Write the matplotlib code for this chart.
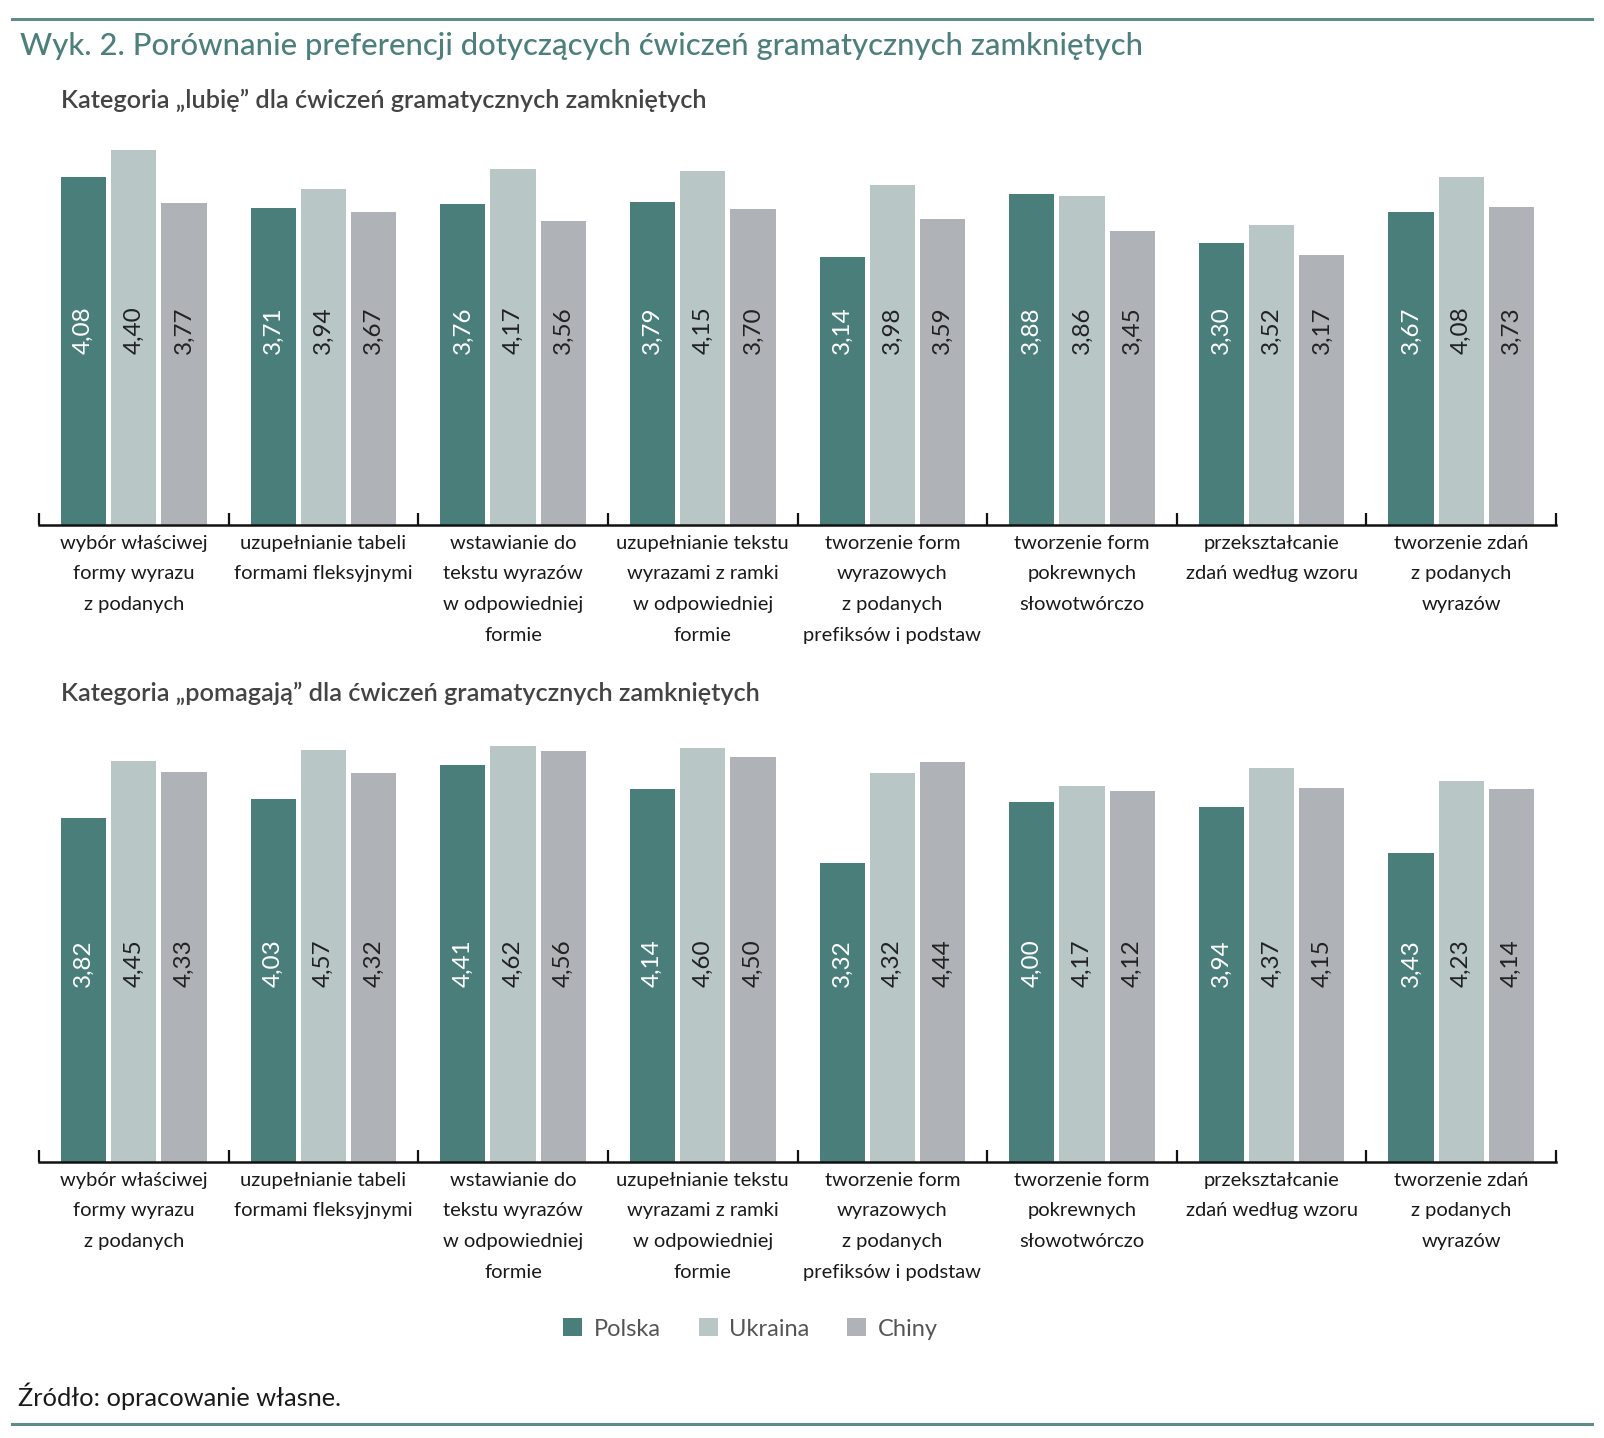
import numpy as np
import matplotlib
matplotlib.use("Agg")
import matplotlib.pyplot as plt
from matplotlib.patches import Patch
from matplotlib.lines import Line2D

plt.rcParams['font.family'] = ['Lato', 'DejaVu Sans']

categories = [
    "wybór właściwej\nformy wyrazu\nz podanych",
    "uzupełnianie tabeli\nformami fleksyjnymi",
    "wstawianie do\ntekstu wyrazów\nw odpowiedniej\nformie",
    "uzupełnianie tekstu\nwyrazami z ramki\nw odpowiedniej\nformie",
    "tworzenie form\nwyrazowych\nz podanych\nprefiksów i podstaw",
    "tworzenie form\npokrewnych\nsłowotwórczo",
    "przekształcanie\nzdań według wzoru",
    "tworzenie zdań\nz podanych\nwyrazów",
]
series = ["Polska", "Ukraina", "Chiny"]

lubie_polska = [4.08, 3.71, 3.76, 3.79, 3.14, 3.88, 3.30, 3.67]
lubie_ukraina = [4.40, 3.94, 4.17, 4.15, 3.98, 3.86, 3.52, 4.08]
lubie_chiny = [3.77, 3.67, 3.56, 3.70, 3.59, 3.45, 3.17, 3.73]

pomagaja_polska = [3.82, 4.03, 4.41, 4.14, 3.32, 4.00, 3.94, 3.43]
pomagaja_ukraina = [4.45, 4.57, 4.62, 4.60, 4.32, 4.17, 4.37, 4.23]
pomagaja_chiny = [4.33, 4.32, 4.56, 4.50, 4.44, 4.12, 4.15, 4.14]

colors = ["#4a7e7a", "#b8c6c6", "#afb3b7"]
label_colors = ["white", "#222222", "#222222"]
teal = "#4d807c"

fig = plt.figure(figsize=(16.04, 14.38), dpi=100)


def draw_panel(ax, data, ymax, label_y):
    x = np.arange(len(categories))
    width = 0.238
    step = 0.265
    for k, vals in enumerate(data):
        xs = x + (k - 1) * step
        ax.bar(xs, vals, width, color=colors[k], zorder=2)
        for xi, v in zip(xs, vals):
            ax.text(xi, label_y, f"{v:.2f}".replace(".", ","), rotation=90,
                    ha="center", va="center", fontsize=17.5, color=label_colors[k],
                    transform=ax.get_xaxis_transform())
    ax.set_xlim(-0.5, len(categories) - 0.5)
    ax.set_ylim(0, ymax)
    for s in ["top", "right", "left"]:
        ax.spines[s].set_visible(False)
    ax.spines["bottom"].set_linewidth(1.8)
    ax.spines["bottom"].set_color("#111111")
    ax.set_yticks([])
    ax.set_xticks(np.arange(-0.5, len(categories)))
    ax.set_xticklabels([])
    ax.tick_params(axis="x", direction="in", length=9, width=1.6, color="#111111")
    for i, c in enumerate(categories):
        ax.annotate(c, xy=(i, 0), xycoords=("data", "axes fraction"),
                    xytext=(0, -7), textcoords="offset points",
                    ha="center", va="top", fontsize=14.5, color="#1a1a1a",
                    linespacing=1.98)


ax1 = fig.add_axes([0.0243, 0.6349, 0.9458, 0.267])
draw_panel(ax1, [lubie_polska, lubie_ukraina, lubie_chiny], 4.5, 0.508)

ax2 = fig.add_axes([0.0243, 0.1919, 0.9458, 0.2945])
draw_panel(ax2, [pomagaja_polska, pomagaja_ukraina, pomagaja_chiny], 4.7, 0.47)

fig.add_artist(Line2D([0.0075, 0.9925], [0.9868, 0.9868], color="#5e8d89", lw=2.2))
fig.add_artist(Line2D([0.0075, 0.9925], [0.0097, 0.0097], color="#5e8d89", lw=2.2))

fig.text(0.0125, 0.968, "Wyk. 2. Porównanie preferencji dotyczących ćwiczeń gramatycznych zamkniętych",
         fontsize=22.3, color=teal, va="center", ha="left", fontweight="medium")
fig.text(0.038, 0.9305, "Kategoria „lubię” dla ćwiczeń gramatycznych zamkniętych",
         fontsize=18.2, color="#444444", va="center", ha="left", fontweight="semibold")
fig.text(0.038, 0.518, "Kategoria „pomagają” dla ćwiczeń gramatycznych zamkniętych",
         fontsize=18.2, color="#444444", va="center", ha="left", fontweight="semibold")

handles = [Patch(facecolor=c, label=s) for c, s in zip(colors, series)]
fig.legend(handles=handles, loc="center", bbox_to_anchor=(0.468, 0.0758), ncol=3,
           frameon=False, fontsize=17, handlelength=0.8, handleheight=0.8,
           handletextpad=0.5, columnspacing=1.6, labelcolor="#555555")

fig.text(0.011, 0.029, "Źródło: opracowanie własne.", fontsize=18.3, color="#1a1a1a",
         va="center", ha="left")

fig.savefig("out.png", dpi=100)
